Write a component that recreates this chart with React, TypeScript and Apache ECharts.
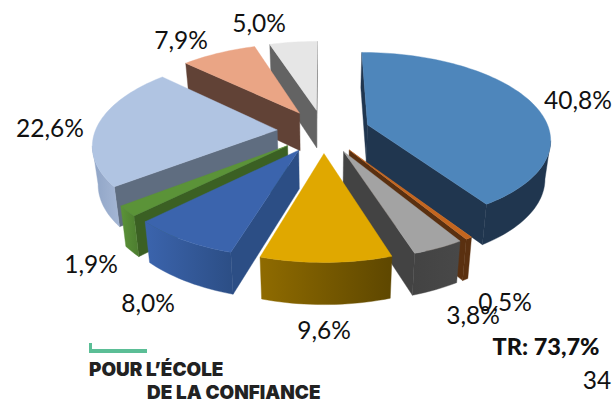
import React, { useEffect, useRef } from "react";
import * as echarts from "echarts";

const categories = ["A", "B", "C", "D", "E", "F", "G", "H", "I"];
const values = [40.8, 0.5, 3.8, 9.6, 8.0, 1.9, 22.6, 7.9, 5.0];
const topColors = ["#4E86BB", "#C4661F", "#A3A3A3", "#E0A800", "#3B64AD", "#5B9338", "#B0C4E2", "#EAA585", "#E6E6E6"];
const radialColors = ["#20364F", "#5A3010", "#434343", "#7A5C00", "#2C4E85", "#3B6023", "#5F6D80", "#614236", "#636363"];
const outerLeftColors = ["#20364F", "#5A3010", "#434343", "#8F6B00", "#3B64AD", "#5B9338", "#8FA4C6", "#614236", "#636363"];
const outerRightColors = ["#20364F", "#5A3010", "#484848", "#5E4700", "#2C4E85", "#4C7C2F", "#A4B6D4", "#614236", "#636363"];
const titleText = "TR: 73,7%";
const pageText = "34";
const logoLines = ["POUR L\u2019ÉCOLE", "DE LA CONFIANCE"];

const CX = 323.5, CY = 131, RX = 182, RY = 85, K = 0.15, EXPLODE = 0.255, DEPTH = 38;
const LABEL_XY = [[578, 99], [505, 301], [473, 314], [324, 329], [148, 302], [91, 263], [50, 127], [181, 39], [259, 22]];
const total = values.reduce((a, b) => a + b, 0);

function project(u: number, v: number) {
  const s = 1 / (1 - K * v);
  const x = CX + RX * u * s;
  const y = CY + RY * v * s;
  return { x, y, bx: CX + (x - CX) * 0.975, by: y + DEPTH * Math.sqrt(s) };
}

function sliceGeometry(i: number) {
  const before = values.slice(0, i).reduce((a, b) => a + b, 0);
  const a0 = (before / total) * Math.PI * 2;
  const a1 = ((before + values[i]) / total) * Math.PI * 2;
  const mid = (a0 + a1) / 2;
  const ou = Math.sin(mid) * EXPLODE;
  const ov = -Math.cos(mid) * EXPLODE;
  const steps = Math.max(4, Math.ceil((a1 - a0) / 0.03));
  const arc = [];
  for (let k = 0; k <= steps; k++) {
    const t = a0 + ((a1 - a0) * k) / steps;
    arc.push(project(ou + Math.sin(t), ov - Math.cos(t)));
  }
  const apex = project(ou, ov);
  const inner = project(ou + Math.sin(mid) * 0.6, ov - Math.cos(mid) * 0.6);
  return { arc, apex, inner, ov };
}

function renderItem(params: any, api: any) {
  const i = api.value(0);
  const { arc, apex, inner } = sliceGeometry(i);
  const children: any[] = [];
  const poly = (pts: number[][], fill: any) =>
    children.push({ type: "polygon", shape: { points: pts }, style: { fill, stroke: fill, lineWidth: 0.4 } });

  const radial = (p: any) => {
    const ex = p.x - apex.x, ey = p.y - apex.y;
    const c1 = ex * (p.by - p.y) - ey * (p.bx - p.x);
    const c2 = ex * (inner.y - apex.y) - ey * (inner.x - apex.x);
    if (c1 * c2 < 0) {
      poly([[apex.x, apex.y], [p.x, p.y], [p.bx, p.by], [apex.bx, apex.by]], radialColors[i]);
    }
  };
  radial(arc[0]);
  radial(arc[arc.length - 1]);

  const vis: any[] = [];
  for (let k = 0; k < arc.length - 1; k++) {
    if (arc[k + 1].x < arc[k].x) {
      if (vis.length === 0) vis.push(arc[k]);
      vis.push(arc[k + 1]);
    }
  }
  if (vis.length > 1) {
    const pts = vis.map((p) => [p.x, p.y]).concat(vis.slice().reverse().map((p) => [p.bx, p.by]));
    poly(pts, new echarts.graphic.LinearGradient(0, 0, 1, 0, [
      { offset: 0, color: outerLeftColors[i] },
      { offset: 1, color: outerRightColors[i] },
    ]));
  }
  poly([[apex.x, apex.y], ...arc.map((p) => [p.x, p.y])], topColors[i]);
  return { type: "group", children };
}

const drawOrder = categories.map((_, i) => i).sort((a, b) => sliceGeometry(a).ov - sliceGeometry(b).ov);
const fmt = (v: number) => v.toFixed(1).replace(".", ",") + "%";
const FONT = "Lato";

export default function App() {
  const ref = useRef<HTMLDivElement>(null);
  useEffect(() => {
    const chart = echarts.init(ref.current!, undefined, { renderer: "svg" });
    const label = (text: string, x: number, y: number, extra: any = {}) => ({
      type: "text", x, y, z: 10,
      style: { text, fill: "#111", font: `24.5px ${FONT}`, textAlign: "center", textVerticalAlign: "middle", ...extra },
    });
    chart.setOption({
      animation: false,
      backgroundColor: "#fff",
      series: [{
        type: "custom",
        coordinateSystem: "none",
        renderItem,
        data: drawOrder.map((i) => [i]),
        silent: true,
      }],
      graphic: [
        ...values.map((v, i) => label(fmt(v), LABEL_XY[i][0], LABEL_XY[i][1])),
        label(titleText, 546, 346, { font: `900 23.5px ${FONT}` }),
        label(pageText, 597, 379),
        { type: "rect", z: 10, shape: { x: 89, y: 349, width: 58, height: 4 }, style: { fill: "#5BBE96" } },
        { type: "rect", z: 10, shape: { x: 89, y: 343, width: 3, height: 10 }, style: { fill: "#5BBE96" } },
        { type: "text", x: 89, y: 369, z: 10, style: { text: logoLines[0], fill: "#222", font: `900 18.9px Inter`, textAlign: "left", textVerticalAlign: "middle" } },
        { type: "text", x: 147, y: 392, z: 10, style: { text: logoLines[1], fill: "#222", font: `900 18.9px Inter`, textAlign: "left", textVerticalAlign: "middle" } },
      ],
    });
    return () => chart.dispose();
  }, []);
  return <div ref={ref} style={{ position: "fixed", left: 0, top: 0, width: 613, height: 402 }} />;
}
